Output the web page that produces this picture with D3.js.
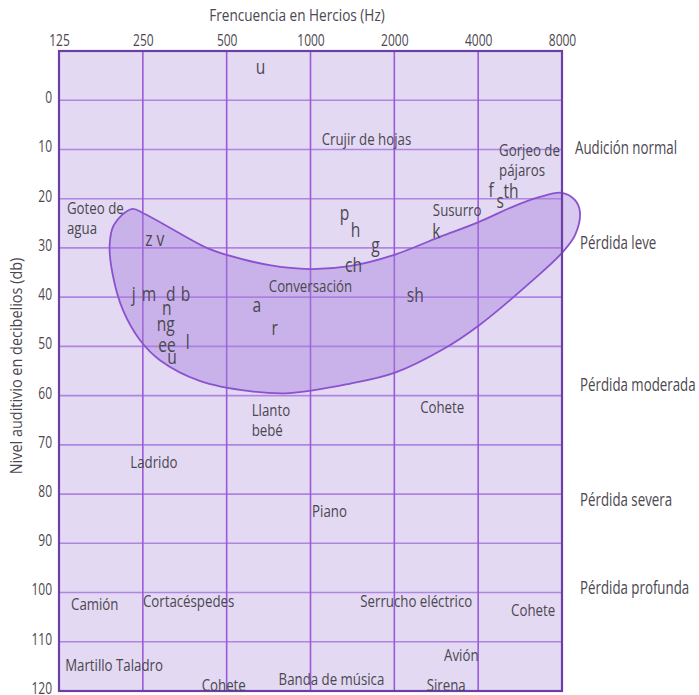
<!DOCTYPE html>
<meta charset="utf-8">
<style>
body { margin: 0; background: #fff; }
text {
  font-family: "Open Sans", sans-serif;
  fill: #4b474f;
}
</style>
<svg width="699" height="695"></svg>
<script src="https://d3js.org/d3.v7.min.js"></script>
<script>

// frequency ticks (Hz) and level ticks (dB)
var freqTicks = [125, 250, 500, 1000, 2000, 4000, 8000];
var dbTicks = [0, 10, 20, 30, 40, 50, 60, 70, 80, 90, 100, 110, 120];

// speech banana outline (Hz, dB)
var bananaFreq = [228, 254, 424, 500, 713, 991, 1379, 2000, 2900, 4035, 5290, 6620, 8000, 8910, 9280, 8910,
                  8000, 6245, 4035, 2970, 2000, 1379, 841, 605, 400, 288, 244, 212, 195, 190, 197];
var bananaDb   = [22.1, 23.1, 30.0, 31.4, 33.5, 34.3, 33.7, 31.4, 27.8, 24.7, 21.7, 19.7, 18.8, 20.3, 22.7, 27.4,
                  31.0, 36.7, 45.7, 50.7, 55.4, 57.6, 59.5, 59.1, 57.0, 52.8, 48.7, 42.6, 35.5, 29.4, 25.3];

// speech sounds
var phonemes   = ["u", "f", "s", "th", "k", "z v", "p", "h", "g", "ch", "sh", "j", "m", "d", "b", "n", "ng", "ee", "l", "u", "a", "r"];
var phonemeHz  = [662, 4450, 4800, 5250, 2828, 276, 1324, 1450, 1710, 1426, 2378, 232, 263, 315, 356, 305, 302, 305, 362, 318, 641, 743];
var phonemeDb  = [-6.7, 18.2, 20.5, 18.4, 26.6, 28.2, 22.9, 26.4, 29.4, 33.5, 39.6, 39.4, 39.4, 39.4, 39.4, 42.2, 45.5, 49.7, 49.1, 52.2, 41.6, 46.3];

// everyday sounds (centred)
var sounds   = ["Crujir de hojas", "Susurro", "Conversación", "Cohete", "Ladrido", "Piano", "Camión", "Cortacéspedes",
                "Serrucho eléctrico", "Cohete", "Martillo Taladro", "Avión", "Cohete", "Banda de música", "Sirena"];
var soundHz  = [1588, 3363, 1000, 2970, 274, 1170, 168, 365, 2398, 6300, 197, 3480, 488, 1189, 3070];
var soundDb  = [7.9, 22.3, 37.7, 62.3, 73.5, 83.4, 102.3, 101.7, 101.7, 103.5, 114.7, 112.7, 118.7, 117.6, 118.7];

// two-line sounds (left aligned)
var sounds2   = [["Goteo de", "agua"], ["Gorjeo de", "pájaros"], ["Llanto", "bebé"]];
var sounds2Hz = [133.5, 4756, 615];
var sounds2Db = [21.9, 10.1, 62.9];

// hearing loss bands on the right
var bands   = ["Audición normal", "Pérdida leve", "Pérdida moderada", "Pérdida severa", "Pérdida profunda"];
var bandsDb = [9.7, 29, 57.8, 81.2, 99.1];

var squeeze = 0.78; // narrow lettering of the original

var svg = d3.select("svg");

var x = d3.scaleLog().base(2)
    .domain([125, 8000])
    .range([59, 562]);

var y = d3.scaleLinear()
    .domain([-10, 120])
    .range([51, 691]);

function at(px, py, s) {
  return "translate(" + px + "," + py + ") scale(" + (s || squeeze) + ",1)";
}

// plot background
svg.append("rect")
    .attr("x", x(125)).attr("y", y(-10))
    .attr("width", x(8000) - x(125))
    .attr("height", y(120) - y(-10))
    .attr("fill", "#e3d9f3");

// horizontal grid
svg.append("g")
    .selectAll("line")
    .data(dbTicks.slice(0, -1))
    .join("line")
      .attr("x1", x(125)).attr("x2", x(8000))
      .attr("y1", function(d) { return y(d); })
      .attr("y2", function(d) { return y(d); })
      .attr("stroke", "#b085e2")
      .attr("stroke-width", 1.6);

// vertical grid
svg.append("g")
    .selectAll("line")
    .data(freqTicks.slice(1, -1))
    .join("line")
      .attr("x1", function(d) { return x(d); })
      .attr("x2", function(d) { return x(d); })
      .attr("y1", y(-10)).attr("y2", y(120))
      .attr("stroke", "#9a5ad8")
      .attr("stroke-width", 1.6);

// banana
var banana = d3.range(bananaFreq.length).map(function(i) { return [bananaFreq[i], bananaDb[i]]; });
var line = d3.line()
    .x(function(d) { return x(d[0]); })
    .y(function(d) { return y(d[1]); })
    .curve(d3.curveCatmullRomClosed.alpha(0.5));

svg.append("path")
    .datum(banana)
    .attr("d", line)
    .attr("fill", "#a47ddc")
    .attr("fill-opacity", 0.42)
    .attr("stroke", "#8a52cf")
    .attr("stroke-width", 1.8);

// frame
svg.append("rect")
    .attr("x", x(125)).attr("y", y(-10))
    .attr("width", x(8000) - x(125))
    .attr("height", y(120) - y(-10))
    .attr("fill", "none")
    .attr("stroke", "#6b3fa6")
    .attr("stroke-width", 2.2);

// axes (labels only, no tick marks)
svg.append("g")
    .attr("transform", "translate(0," + y(-10) + ")")
    .call(d3.axisTop(x).tickValues(freqTicks).tickFormat(d3.format("d")).tickSize(0).tickPadding(5));
svg.append("g")
    .attr("class", "yax")
    .attr("transform", "translate(" + x(125) + ",0)")
    .call(d3.axisLeft(y).tickValues(dbTicks).tickSize(0).tickPadding(7));
svg.selectAll(".domain").remove();
svg.selectAll(".tick text")
    .attr("font-family", null)
    .style("font-size", "16px")
    .style("fill", "#4b474f")
    .attr("transform", "scale(0.75,1)");
svg.selectAll(".yax .tick text")
    .attr("x", -7 / 0.75)
    .attr("dy", "2.4px");

svg.append("text")
    .attr("transform", at(297, 21, 0.8))
    .attr("text-anchor", "middle")
    .style("font-size", "17px")
    .text("Frencuencia en Hercios (Hz)");

svg.append("text")
    .attr("transform", "translate(22,366) rotate(-90) scale(0.85,1)")
    .attr("text-anchor", "middle")
    .style("font-size", "17px")
    .text("Nivel auditivio en decibelios (db)");

// phonemes
svg.append("g")
    .selectAll("text")
    .data(phonemes)
    .join("text")
      .attr("transform", function(d, i) { return at(x(phonemeHz[i]), y(phonemeDb[i])); })
      .attr("dy", "0.35em")
      .attr("text-anchor", "middle")
      .style("font-size", "20px")
      .text(function(d) { return d; });

// sounds
svg.append("g")
    .selectAll("text")
    .data(sounds)
    .join("text")
      .attr("transform", function(d, i) { return at(x(soundHz[i]), y(soundDb[i])); })
      .attr("dy", "0.35em")
      .attr("text-anchor", "middle")
      .style("font-size", "17px")
      .text(function(d) { return d; });

var two = svg.append("g")
    .selectAll("text")
    .data(sounds2)
    .join("text")
      .attr("transform", function(d, i) { return at(x(sounds2Hz[i]), y(sounds2Db[i])); })
      .style("font-size", "17px");
two.selectAll("tspan")
    .data(function(d) { return d; })
    .join("tspan")
      .attr("x", 0)
      .attr("dy", function(d, j) { return j == 0 ? "0.35em" : "1.2em"; })
      .text(function(d) { return d; });

// loss bands
svg.append("g")
    .selectAll("text")
    .data(bands)
    .join("text")
      .attr("transform", function(d, i) { return at(x(8000) + (i == 0 ? 13 : 18), y(bandsDb[i]), 0.76); })
      .attr("dy", "0.35em")
      .style("font-size", "17.5px")
      .text(function(d) { return d; });

</script>
